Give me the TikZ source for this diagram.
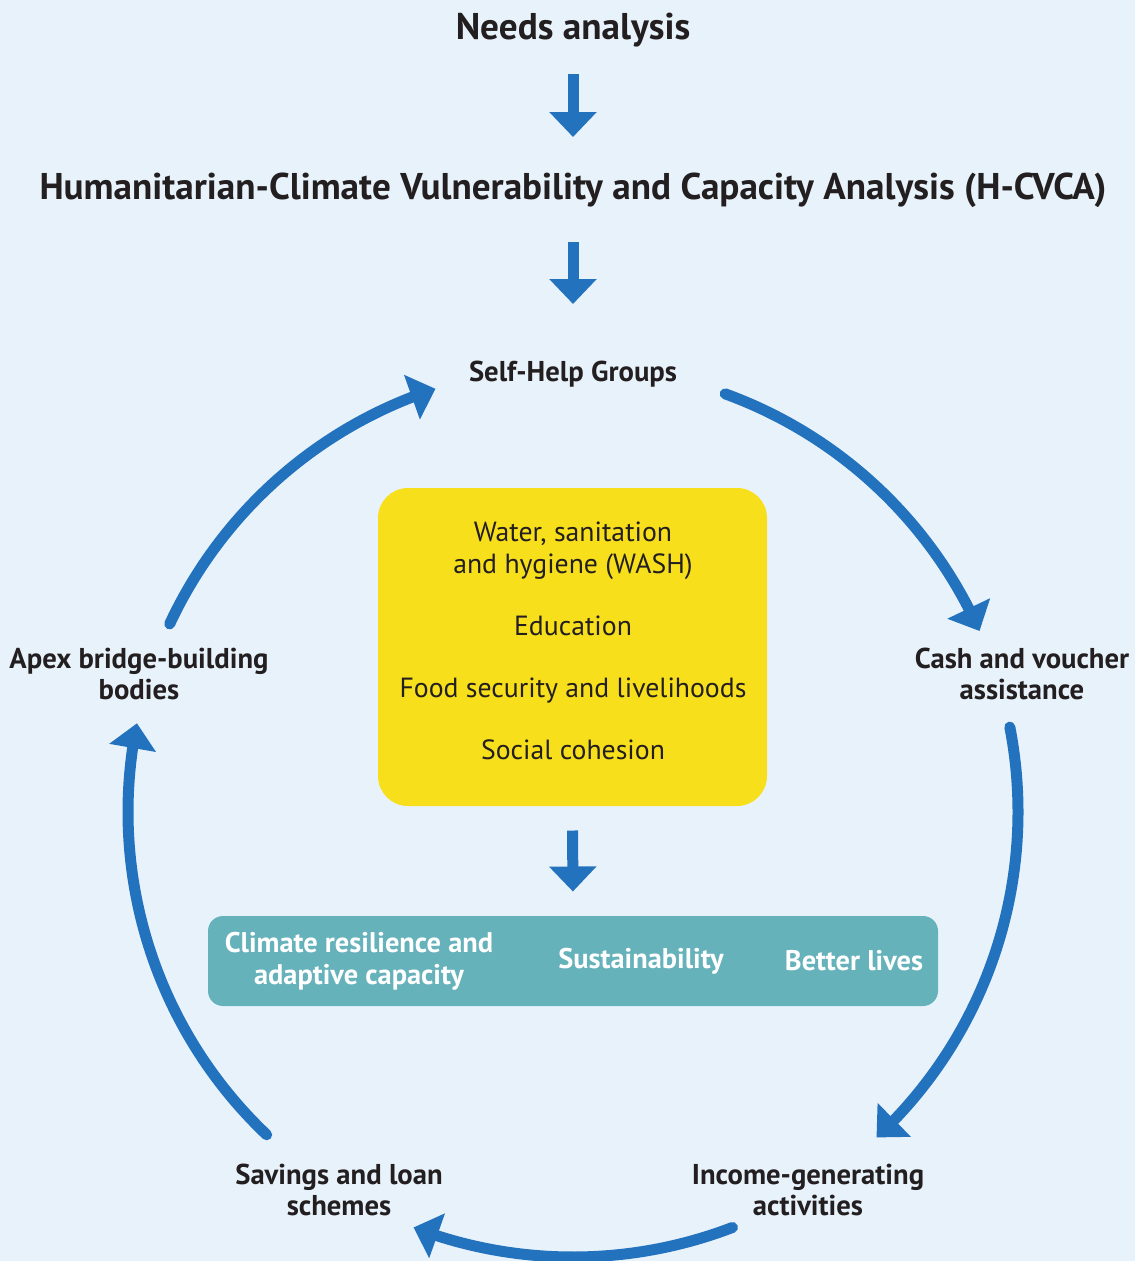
\documentclass[tikz,border=0pt]{standalone}
\usepackage{fontspec}
\setmainfont{PT Sans}
\usetikzlibrary{arrows.meta,bending}

\definecolor{paleblue}{HTML}{E8F2FB}
\definecolor{flowblue}{HTML}{2272BE}
\definecolor{sunyellow}{HTML}{F8DF1C}
\definecolor{goalteal}{HTML}{66B2BA}
\definecolor{inkgray}{HTML}{231F20}

\tikzset{
  every picture/.style={line width=0.75pt},
  title/.style={font=\fontsize{27.9}{32}\selectfont\bfseries, text=inkgray, inner sep=0pt},
  stage/.style={font=\fontsize{21.5}{23.5}\selectfont\bfseries, align=center, text=inkgray, inner sep=0pt},
  sector/.style={font=\fontsize{20.8}{24}\selectfont, align=center, text=inkgray, inner sep=0pt},
  goal/.style={font=\fontsize{21.3}{24}\selectfont\bfseries, align=center, text=white, inner sep=0pt},
  focusbox/.style={fill=sunyellow, rounded corners=22.5pt, minimum width=291.75pt, minimum height=238.5pt},
  goalbox/.style={fill=goalteal, rounded corners=11.25pt, minimum width=547.5pt, minimum height=67.5pt},
  downarrow/.style={draw=flowblue, line width=8.25pt, -{Triangle[width=34.5pt,length=18.75pt]}},
  looparrow/.style={draw=flowblue, line width=8.25pt, line cap=round, -{Triangle[width=34.5pt,length=18.75pt,flex]}},
}

\begin{document}
\begin{tikzpicture}[x=0.75pt,y=0.75pt,yscale=-1,xscale=1]
    % background and page size
    \fill[paleblue] (0,0) rectangle (1135,1261);
    \useasboundingbox (0,0) rectangle (1135,1261);

    % Text Node
    \node[title] (needs) at (573,30) {Needs analysis};
    % Text Node
    \node[title] (hcvca) at (573,190) {Humanitarian-Climate Vulnerability and Capacity Analysis (H-CVCA)};

    %Shape: Rounded Rectangle
    \node[focusbox] (focus) at (572.5,647) {};
    % Text Node
    \node[sector] (sectors) at (573,641) {Water, sanitation\\and hygiene (WASH)\\[22.5pt]Education\\[22.5pt]Food security and livelihoods\\[22.5pt]Social cohesion};

    %Shape: Rounded Rectangle
    \node[goalbox] (goals) at (573,961) {};
    % Text Node
    \node[goal] (resilience) at (359,961) {Climate resilience and\\adaptive capacity};
    % Text Node
    \node[goal] (sustain) at (641,961) {Sustainability};
    % Text Node
    \node[goal] (lives) at (854,961) {Better lives};

    % cycle stages
    \node[stage] (shg) at (573,374) {Self-Help Groups};
    \node[stage] (cash) at (1022,674) {Cash and voucher\\assistance};
    \node[stage] (income) at (808,1190) {Income-generating\\activities};
    \node[stage] (savings) at (339,1190) {Savings and loan\\schemes};
    \node[stage] (apex) at (139,674) {Apex bridge-building\\bodies};

    % straight arrows
    \draw[downarrow, shorten <=33pt, shorten >=39.75pt] (needs.center) -- (hcvca.center);
    \draw[downarrow, shorten <=39pt, shorten >=52.5pt] (hcvca.center) -- (shg.center);
    \draw[downarrow, shorten <=18pt, shorten >=18pt] (focus.south) -- (goals.north);

    % cycle arrows round the hub
    \coordinate (hub) at (573,812);
    \draw[looparrow] ([shift={(-70:445)}]hub) arc[start angle=-70, end angle=-24, radius=445];
    \draw[looparrow] ([shift={(-11:445)}]hub) arc[start angle=-11, end angle=47, radius=445];
    \draw[looparrow] ([shift={(69:445)}]hub) arc[start angle=69, end angle=111, radius=445];
    \draw[looparrow] ([shift={(133.5:445)}]hub) arc[start angle=133.5, end angle=191.5, radius=445];
    \draw[looparrow] ([shift={(205:445)}]hub) arc[start angle=205, end angle=252, radius=445];

\end{tikzpicture}
\end{document}
